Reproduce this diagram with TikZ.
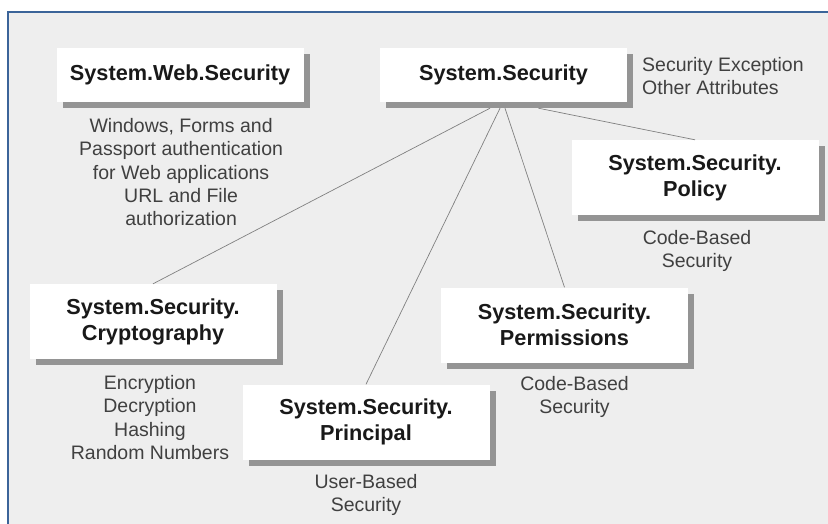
\documentclass[tikz,border=0pt]{standalone}
\usepackage{fontspec}
\setmainfont{Liberation Sans}
\usepackage{xcolor}
\usepackage{tikz}
\usetikzlibrary{positioning,shadows}

\definecolor{panelgray}{HTML}{EEEEEE}
\definecolor{panelblue}{HTML}{3B6499}

\begin{document}
\begin{tikzpicture}[
    x=1pt, y=1pt,
    box/.style={rectangle, fill=white, text=black!90, align=center, minimum width=247pt, minimum height=54pt, inner sep=0pt, font=\fontsize{21.7}{26}\selectfont\bfseries, drop shadow={shadow xshift=6pt, shadow yshift=-6pt, fill=black!42, opacity=1}},
    tallbox/.style={box, minimum height=75pt},
    desc/.style={inner sep=0pt, align=center, text=black!75, font=\fontsize{19.5}{23.3}\selectfont},
    link/.style={draw=black!50, line width=0.7pt}
]
\useasboundingbox (0,0) rectangle (828,-523);

% Panel
\fill[panelgray] (8,-12) rectangle (830,-525);
\draw[panelblue, line width=2.2pt] (8,-525) -- (8,-12) -- (830,-12);

% Main namespace
\node[box] (security) at (503.5,-75) {System.Security};
\node[desc, align=left, anchor=north west] (sectext) at (642,-57) {Security Exception\\Other Attributes};

% Web security
\node[box, left=76pt of security] (web) {System.Web.Security};
\node[desc, below=16pt of web, xshift=1pt] (webtext) {Windows, Forms and\\Passport authentication\\for Web applications\\URL and File\\authorization};

% Sub namespaces
\node[tallbox] (policy) at (695,-177.5) {System.Security.\\Policy};
\node[tallbox] (crypto) at (153,-321.5) {System.Security.\\Cryptography};
\node[tallbox] (perm) at (564.5,-325) {System.Security.\\Permissions};
\node[tallbox] (principal) at (366,-422) {System.Security.\\Principal};

% Descriptions
\node[desc, below=15pt of policy, xshift=2pt] (policytext) {Code-Based\\Security};
\node[desc, below=16pt of crypto, xshift=-3pt] (cryptotext) {Encryption\\Decryption\\Hashing\\Random Numbers};
\node[desc, below=13pt of perm, xshift=10pt] (permtext) {Code-Based\\Security};
\node[desc, below=14pt of principal] (principaltext) {User-Based\\Security};

% Links
\draw[link] ([xshift=-13.5pt, yshift=-6pt]security.south) -- (crypto.north);
\draw[link] ([xshift=-3.5pt, yshift=-6pt]security.south) -- (principal.north);
\draw[link] ([xshift=1.5pt, yshift=-6pt]security.south) -- (perm.north);
\draw[link] ([xshift=35pt, yshift=-6pt]security.south) -- (policy.north);

\end{tikzpicture}
\end{document}
